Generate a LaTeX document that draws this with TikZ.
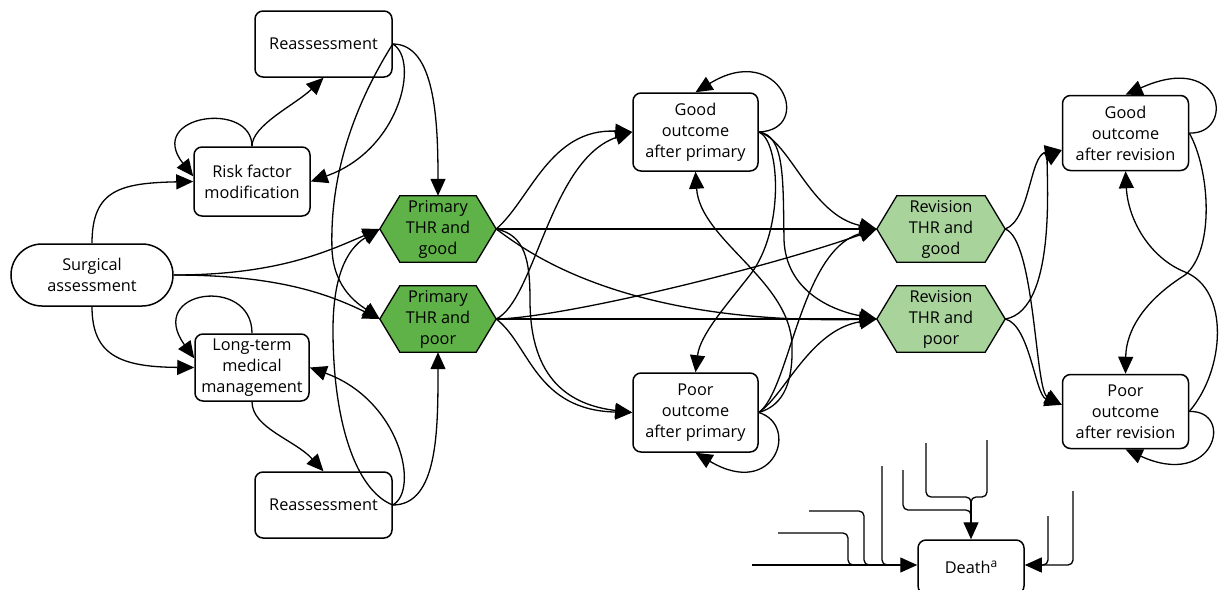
\documentclass[tikz,border=0pt]{standalone}
\usepackage{fontspec}
\setmainfont{Open Sans}
\usetikzlibrary{arrows.meta,backgrounds}
\definecolor{pgreen}{HTML}{5FB247}
\definecolor{rgreen}{HTML}{A8D49C}
\tikzset{
  txt/.style={font=\fontsize{16.3pt}{21pt}\selectfont, align=center, inner sep=0pt},
  box/.style={txt, draw, rounded corners=8pt, line width=1.5pt, fill=white},
  hexn/.style={txt, minimum width=116pt, minimum height=66pt},
  hexline/.style={draw, line width=1.3pt},
  arr/.style={-{Triangle[length=17pt,width=15pt]}, line width=1.3pt},
  ln/.style={line width=1.3pt, rounded corners=5pt},
}
\begin{document}
\begin{tikzpicture}[x=1pt,y=-1pt]
\useasboundingbox (0,0) rectangle (1222,589);
% nodes
\node[box, minimum width=137pt, minimum height=66pt] (R1) at (323.5,44) {Reassessment};
\node[box, minimum width=116pt, minimum height=69pt] (RF) at (252,181.5) {Risk factor\\modification};
\node[box, rounded corners=31pt, minimum width=162pt, minimum height=62pt] (SA) at (92,275) {Surgical\\assessment};
\node[box, minimum width=114pt, minimum height=67pt] (LT) at (252,367.5) {Long-term\\medical\\management};
\node[box, minimum width=137pt, minimum height=66pt] (R2) at (323.5,505) {Reassessment};
\node[hexn] (PG) at (438,229) {Primary\\THR and\\good};
\node[hexn] (PP) at (438,319) {Primary\\THR and\\poor};
\node[box, minimum width=125pt, minimum height=78pt] (GP) at (695.5,132) {Good\\outcome\\after primary};
\node[box, minimum width=125pt, minimum height=79pt] (PO) at (695.5,412.5) {Poor\\outcome\\after primary};
\node[hexn, minimum width=128pt] (RG) at (941,229) {Revision\\THR and\\good};
\node[hexn, minimum width=128pt] (RP) at (941,319) {Revision\\THR and\\poor};
\node[box, minimum width=126pt, minimum height=75pt] (GR) at (1125.5,133) {Good\\outcome\\after revision};
\node[box, minimum width=126pt, minimum height=74pt] (PR) at (1125.5,411.5) {Poor\\outcome\\after revision};
\node[box, minimum width=106pt, minimum height=54pt] (D) at (971,567) {Death\raisebox{6pt}{\fontsize{12pt}{12pt}\selectfont a}};
% hexagons
\begin{pgfonlayer}{background}
\foreach \n/\c in {PG/pgreen,PP/pgreen,RG/rgreen,RP/rgreen}{
  \filldraw[hexline, fill=\c] ([xshift=20pt]\n.north west) -- ([xshift=-20pt]\n.north east) -- (\n.east)
    -- ([xshift=-20pt]\n.south east) -- ([xshift=20pt]\n.south west) -- (\n.west) -- cycle;
}
\end{pgfonlayer}
% left part
\draw[arr] (SA.north) .. controls (92,190) and (120,183) .. (RF.west);
\draw[arr] (SA.south) .. controls (92,355) and (120,367) .. (LT.west);
\draw[arr] (SA.east) .. controls (280,275) and (330,250) .. (PG.west);
\draw[arr] (SA.east) .. controls (280,275) and (330,295) .. (PP.west);
\draw[arr] (RF.north) .. controls (252,100) and (145,115) .. (RF.175);
\draw[arr] (RF.north) .. controls (252,125) and (295,105) .. (R1.south);
\draw[arr] (R1.east) .. controls (435,44) and (438,120) .. (PG.north);
\draw[arr] (R1.east) .. controls (420,60) and (400,150) .. (RF.east);
\draw[arr] (R1.east) .. controls (345,120) and (330,190) .. (332,250) .. controls (334,290) and (360,305) .. (PP.west);
\draw[arr] (LT.north) .. controls (252,275) and (145,290) .. (LT.171);
\draw[arr] (LT.south) .. controls (252,428) and (295,440) .. (R2.north);
\draw[arr] (R2.east) .. controls (438,505) and (438,430) .. (PP.south);
\draw[arr] (R2.east) .. controls (420,490) and (400,400) .. (LT.east);
\draw[arr] (R2.east) .. controls (355,490) and (333,420) .. (333,330) .. controls (333,280) and (345,250) .. (PG.west);
% middle part
\draw[arr] (PG.east) .. controls (530,200) and (550,128) .. (GP.west);
\draw[arr] (PP.east) .. controls (535,300) and (550,160) .. (GP.west);
\draw[arr] (PG.east) -- (RG.west);
\draw[arr] (PG.east) .. controls (525,250) and (620,325) .. (RP.west);
\draw[arr] (PG.east) .. controls (525,235) and (530,260) .. (530,300) .. controls (530,380) and (570,405) .. (PO.west);
\draw[arr] (PP.east) .. controls (530,345) and (535,410) .. (PO.west);
\draw[arr] (PP.east) .. controls (560,318) and (760,270) .. (RG.west);
\draw[arr] (PP.east) -- (RP.west);
\draw[arr] (GP.east) .. controls (815,130) and (780,40) .. (GP.north);
\draw[arr] (GP.east) .. controls (790,140) and (810,215) .. (RG.west);
\draw[arr] (GP.east) .. controls (785,135) and (783,180) .. (784,240) .. controls (786,290) and (830,310) .. (RP.west);
\draw[arr] (GP.east) .. controls (780,140) and (785,230) .. (750,275) .. controls (725,307) and (700,335) .. (PO.north);
\draw[arr] (PO.east) .. controls (800,425) and (775,500) .. (PO.south);
\draw[arr] (PO.east) .. controls (785,405) and (793,380) .. (792,345) .. controls (790,280) and (700,240) .. (GP.south);
\draw[arr] (PO.east) .. controls (790,390) and (800,250) .. (RG.west);
\draw[arr] (PO.east) .. controls (785,395) and (810,330) .. (RP.west);
% right part
\draw[arr] (RG.east) .. controls (1030,220) and (1030,155) .. (GR.195);
\draw[arr] (RG.east) .. controls (1035,240) and (1035,390) .. (PR.174);
\draw[arr] (RP.east) .. controls (1060,310) and (1045,160) .. (GR.195);
\draw[arr] (RP.east) .. controls (1030,325) and (1035,395) .. (PR.174);
\draw[arr] (GR.east) .. controls (1235,135) and (1225,50) .. (GR.north);
\draw[arr] (GR.east) .. controls (1210,170) and (1215,250) .. (1185,275) .. controls (1145,300) and (1126,330) .. (PR.north);
\draw[arr] (PR.east) .. controls (1225,370) and (1230,290) .. (1185,272) .. controls (1150,258) and (1128,220) .. (GR.south);
\draw[arr] (PR.east) .. controls (1235,410) and (1215,490) .. (PR.south);
% death
\coordinate (dA) at (752,565);
\coordinate (dB) at (778,533);
\coordinate (dC) at (809,511);
\coordinate (dD) at (882,466);
\coordinate (dE) at (903,470);
\coordinate (dF) at (926,443);
\coordinate (dG) at (987,440);
\coordinate (dH) at (1073,491);
\coordinate (dI) at (1048,516);
\draw[arr] (dA) -- (dA -| D.west);
\draw[ln] (dB) -- (848,533) -- (848,565) -- (870,565);
\draw[ln] (dC) -- (864,511) -- (864,565) -- (885,565);
\draw[ln] (dD) -- (882,565) -- (900,565);
\draw[ln] (dE) -- (903,510) -- (971,510) -- (971,520);
\draw[ln] (dF) -- (926,497) -- (971,497) -- (971,510);
\draw[ln] (dG) -- (987,497) -- (971,497) -- (971,510);
\draw[arr] (971,500) -- (D.north);
\draw[ln] (dI) -- (1048,565) -- (1035,565);
\draw[arr, rounded corners=5pt] (dH) |- (dA -| D.east);
\end{tikzpicture}
\end{document}
